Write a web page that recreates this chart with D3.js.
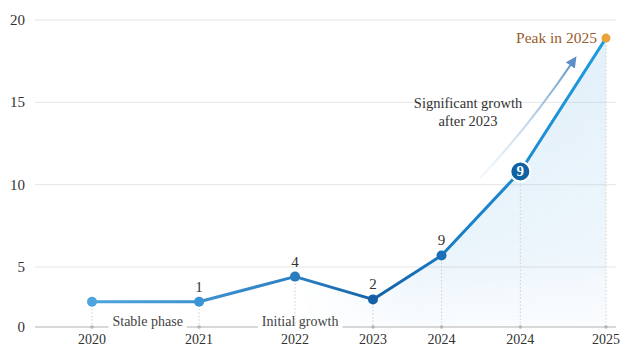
<!DOCTYPE html>
<html>
<head>
<meta charset="utf-8">
<script src="https://cdn.jsdelivr.net/npm/d3@7"></script>
<style>
  body { margin: 0; background: #fff; }
  svg { display: block; font-family: "Liberation Serif", "DejaVu Serif", serif; }
</style>
</head>
<body>
<svg id="chart" width="626" height="348"></svg>
<script>
// data
var years = ["2020", "2021", "2022", "2023", "2024", "2024", "2025"];
var xPos = [0, 1.25, 2.37, 3.28, 4.08, 5, 6];          // uneven spacing as in the picture
var values = [2.1, 2.1, 4.2, 2.3, 5.7, 10.8, 18.9];
var pointLabels = ["", "1", "4", "2", "9", "9", ""];
var yTicks = [0, 5, 10, 15, 20];
var phases = [{ text: "Stable phase", at: 0.65 }, { text: "Initial growth", at: 2.43 }];

var svg = d3.select("#chart");
var W = 626, H = 348;

var x = d3.scaleLinear().domain([0, 6]).range([92, 606]);
// bottom band 0-5 is squeezed in the original
var y = d3.scaleLinear().domain([0, 5, 20]).range([327, 267, 20]);

var data = years.map(function (d, i) {
	return { year: d, t: xPos[i], v: values[i], lab: pointLabels[i] };
});

var defs = svg.append("defs");

var lineGrad = defs.append("linearGradient")
	.attr("id", "lineGrad").attr("gradientUnits", "userSpaceOnUse")
	.attr("x1", x(0)).attr("x2", x(6)).attr("y1", 0).attr("y2", 0);
[[0, "#4ea5dd"], [0.4, "#2b80c2"], [0.55, "#1461a6"], [0.68, "#1a7bc3"], [1, "#1f9ce0"]].forEach(function (s) {
	lineGrad.append("stop").attr("offset", s[0]).attr("stop-color", s[1]);
});

var areaGrad = defs.append("linearGradient")
	.attr("id", "areaGrad").attr("gradientUnits", "userSpaceOnUse")
	.attr("x1", x(2.4)).attr("x2", x(6)).attr("y1", 0).attr("y2", 0);
areaGrad.append("stop").attr("offset", 0).attr("stop-color", "#5aa8e0").attr("stop-opacity", 0);
areaGrad.append("stop").attr("offset", 0.35).attr("stop-color", "#5aa8e0").attr("stop-opacity", 0.22);
areaGrad.append("stop").attr("offset", 1).attr("stop-color", "#8cc4ec").attr("stop-opacity", 0.25);

var fadeGrad = defs.append("linearGradient")
	.attr("id", "fadeGrad").attr("x1", 0).attr("x2", 0).attr("y1", 0).attr("y2", 1);
fadeGrad.append("stop").attr("offset", 0).attr("stop-color", "#fff").attr("stop-opacity", 1);
fadeGrad.append("stop").attr("offset", 0.75).attr("stop-color", "#fff").attr("stop-opacity", 0.6);
fadeGrad.append("stop").attr("offset", 1).attr("stop-color", "#fff").attr("stop-opacity", 0.15);
defs.append("mask").attr("id", "fadeMask")
	.append("rect").attr("x", 0).attr("y", y(20)).attr("width", W).attr("height", y(0) - y(20))
	.attr("fill", "url(#fadeGrad)");

var arrowGrad = defs.append("linearGradient")
	.attr("id", "arrowGrad").attr("gradientUnits", "userSpaceOnUse")
	.attr("x1", 480).attr("y1", 178).attr("x2", 575).attr("y2", 58);
arrowGrad.append("stop").attr("offset", 0).attr("stop-color", "#c9dcee").attr("stop-opacity", 0.2);
arrowGrad.append("stop").attr("offset", 1).attr("stop-color", "#5b8fc6");

defs.append("marker").attr("id", "arrowHead")
	.attr("viewBox", "0 0 10 10").attr("refX", 6).attr("refY", 5)
	.attr("markerWidth", 5).attr("markerHeight", 5).attr("orient", "auto")
	.append("path").attr("d", "M0,0L10,5L0,10z").attr("fill", "#5b8fc6");

// grid
svg.append("g").selectAll("line")
	.data(yTicks.filter(function (d) { return d > 0; }))
	.enter().append("line")
	.attr("x1", 35).attr("x2", 616)
	.attr("y1", function (d) { return y(d); }).attr("y2", function (d) { return y(d); })
	.attr("stroke", "#e6e6e6").attr("stroke-width", 1);

svg.append("g").selectAll("text")
	.data(yTicks).enter().append("text")
	.attr("x", 25).attr("y", function (d) { return y(d) + 5; })
	.attr("text-anchor", "end").attr("font-size", 15).attr("fill", "#333")
	.text(function (d) { return d; });

// area
var area = d3.area()
	.x(function (d) { return x(d.t); })
	.y0(y(0)).y1(function (d) { return y(d.v); });
svg.append("path").datum(data)
	.attr("d", area).attr("fill", "url(#areaGrad)").attr("mask", "url(#fadeMask)");

// dotted drop lines
svg.append("g").selectAll("line")
	.data(data).enter().append("line")
	.attr("x1", function (d) { return x(d.t); }).attr("x2", function (d) { return x(d.t); })
	.attr("y1", function (d) { return y(d.v); }).attr("y2", y(0))
	.attr("stroke", "#cfcfcf").attr("stroke-width", 1).attr("stroke-dasharray", "1.5,2");

// baseline
svg.append("line")
	.attr("x1", 35).attr("x2", 616).attr("y1", y(0)).attr("y2", y(0))
	.attr("stroke", "#cbcbcb").attr("stroke-width", 1.5);

svg.append("g").selectAll("circle")
	.data(data).enter().append("circle")
	.attr("cx", function (d) { return x(d.t); }).attr("cy", y(0)).attr("r", 1.8)
	.attr("fill", "#b5b5b5");

// phase labels on the baseline
phases.forEach(function (p) {
	var g = svg.append("g");
	var t = g.append("text")
		.attr("x", x(p.at)).attr("y", y(0) - 1)
		.attr("text-anchor", "middle").attr("font-size", 14).attr("fill", "#444")
		.text(p.text);
	var bb = t.node().getBBox();
	g.insert("rect", "text")
		.attr("x", bb.x - 4).attr("y", y(0) - 3).attr("width", bb.width + 8).attr("height", 6)
		.attr("fill", "#fff");
});

// x labels
svg.append("g").selectAll("text")
	.data(data).enter().append("text")
	.attr("x", function (d) { return x(d.t); }).attr("y", 344)
	.attr("text-anchor", "middle").attr("font-size", 14).attr("fill", "#333")
	.text(function (d) { return d.year; });

// line
var line = d3.line()
	.x(function (d) { return x(d.t); })
	.y(function (d) { return y(d.v); });
svg.append("path").datum(data)
	.attr("d", line).attr("fill", "none")
	.attr("stroke", "url(#lineGrad)").attr("stroke-width", 3).attr("stroke-linejoin", "round");

// arrow
svg.append("path")
	.attr("d", "M480,178 Q528,128 574,60")
	.attr("fill", "none").attr("stroke", "url(#arrowGrad)").attr("stroke-width", 2.2)
	.attr("marker-end", "url(#arrowHead)");

svg.append("text").attr("x", 468).attr("y", 108)
	.attr("text-anchor", "middle").attr("font-size", 14.5).attr("fill", "#333")
	.text("Significant growth");
svg.append("text").attr("x", 468).attr("y", 126)
	.attr("text-anchor", "middle").attr("font-size", 14.5).attr("fill", "#333")
	.text("after 2023");

// points
var ptColor = ["#4ea5dd", "#3b95d4", "#2a7cbd", "#1561a5", "#1a6fb6"];
svg.append("g").selectAll("circle")
	.data(data.slice(0, 5)).enter().append("circle")
	.attr("cx", function (d) { return x(d.t); }).attr("cy", function (d) { return y(d.v); })
	.attr("r", 5).attr("fill", function (d, i) { return ptColor[i]; });

svg.append("g").selectAll("text")
	.data(data.slice(0, 5).filter(function (d) { return d.lab; })).enter().append("text")
	.attr("x", function (d) { return x(d.t); }).attr("y", function (d) { return y(d.v) - 10; })
	.attr("text-anchor", "middle").attr("font-size", 15).attr("fill", "#333")
	.text(function (d) { return d.lab; });

// badge
var badge = data[5];
svg.append("circle")
	.attr("cx", x(badge.t)).attr("cy", y(badge.v)).attr("r", 10)
	.attr("fill", "#0f62a3").attr("stroke", "#fff").attr("stroke-width", 2);
svg.append("text")
	.attr("x", x(badge.t)).attr("y", y(badge.v) + 5)
	.attr("text-anchor", "middle").attr("font-size", 15).attr("font-weight", "bold").attr("fill", "#fff")
	.text(badge.lab);

// peak
var peak = data[6];
svg.append("circle")
	.attr("cx", x(peak.t)).attr("cy", y(peak.v)).attr("r", 4.5).attr("fill", "#eaa23a");
svg.append("text")
	.attr("x", x(peak.t) - 9).attr("y", y(peak.v) + 5)
	.attr("text-anchor", "end").attr("font-size", 15.5).attr("fill", "#9a5b2c")
	.text("Peak in " + peak.year);
</script>
</body>
</html>
